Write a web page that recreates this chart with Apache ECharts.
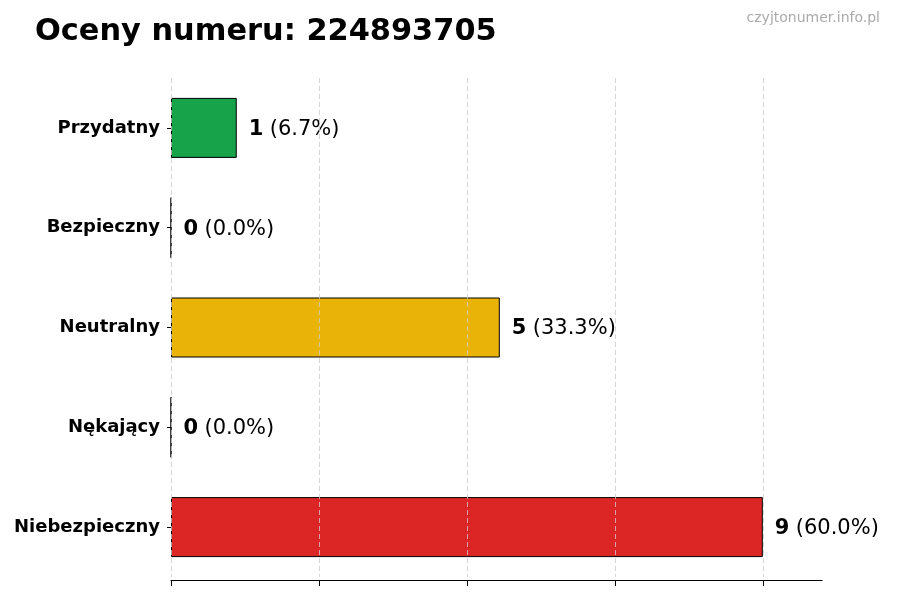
<!DOCTYPE html>
<html>
<head>
<meta charset="utf-8">
<script src="https://cdn.jsdelivr.net/npm/echarts@6/dist/echarts.min.js"></script>
<style>html,body{margin:0;padding:0;background:#fff}#c{width:900px;height:600px}</style>
</head>
<body>
<div id="c"></div>
<script>
const titleText = 'Oceny numeru: 224893705';
const watermark = 'czyjtonumer.info.pl';
const categories = ['Przydatny', 'Bezpieczny', 'Neutralny', 'Nękający', 'Niebezpieczny'];
const values = [1, 0, 5, 0, 9];
const barColors = ['#16a34a', '#3b82f6', '#eab308', '#f97316', '#dc2626'];
const xTicks = [0, 2.25, 4.5, 6.75, 9];

const total = values.reduce((a, b) => a + b, 0);
const FONT = 'DejaVu Sans';

const chart = echarts.init(document.getElementById('c'), null, {renderer: 'canvas'});
chart.setOption({
  animation: false,
  backgroundColor: '#fff',
  title: [
    {text: titleText, left: 30, top: 12,
     textStyle: {fontFamily: FONT, fontSize: 30.4, fontWeight: 'bold', color: '#000'}},
    {text: watermark, right: 15, top: 6,
     textStyle: {fontFamily: FONT, fontSize: 14, fontWeight: 'normal', color: '#aaaaaa'}}
  ],
  grid: {left: 171, right: 78, top: 78, bottom: 23, containLabel: false},
  xAxis: {
    type: 'value', min: 0, max: 9.9, interval: 2.25, z: 5, offset: 3,
    axisLine: {show: true, lineStyle: {color: '#000', width: 1.2}},
    axisTick: {show: true, length: 6, customValues: xTicks, lineStyle: {color: '#000'}},
    axisLabel: {show: false},
    splitLine: {show: true, lineStyle: {color: '#cccccc', type: [5, 3], width: 0.8}}
  },
  yAxis: {
    type: 'category', inverse: true, data: categories,
    axisLine: {show: false},
    axisTick: {show: true, length: 4, alignWithLabel: true, lineStyle: {color: '#000'}},
    axisLabel: {fontFamily: FONT, fontSize: 18, fontWeight: 'bold', color: '#000', margin: 11}
  },
  series: [{
    type: 'bar',
    barWidth: 60,
    data: values.map((v, i) => ({value: v, itemStyle: {color: barColors[i]}})),
    itemStyle: {borderColor: '#000', borderWidth: 1},
    label: {
      show: true, position: 'right', distance: 12, offset: [0, 1.5],
      formatter: p => '{b|' + p.value + '} {n|(' + (p.value / total * 100).toFixed(1) + '%)}',
      rich: {
        b: {fontFamily: FONT, fontSize: 21, fontWeight: 'bold', color: '#000', padding: [0, 3, 0, 0]},
        n: {fontFamily: FONT, fontSize: 21, color: '#000'}
      }
    }
  }]
});
</script>
</body>
</html>
